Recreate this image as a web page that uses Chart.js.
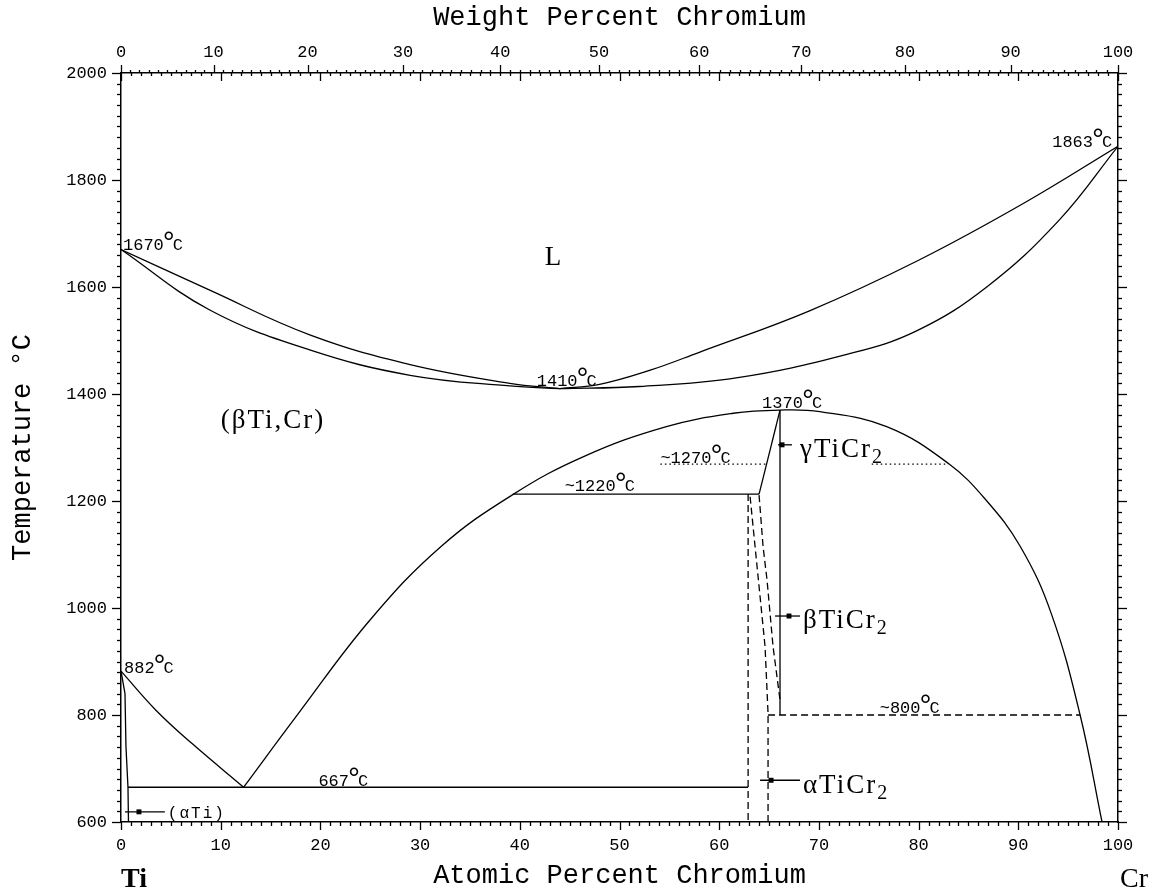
<!DOCTYPE html>
<html>
<head>
<meta charset="utf-8">
<script src="https://cdn.jsdelivr.net/npm/chart.js@4"></script>
<style>
  html, body { margin: 0; padding: 0; background: #fff; }
  #wrap { width: 1152px; height: 892px; }
</style>
</head>
<body>
<div id="wrap"><canvas id="chart" width="1152" height="892"></canvas></div>
<script>
// Ti-Cr phase diagram, atomic percent Cr vs temperature (°C)

// liquidus / solidus
const liquidusLeft  = [[0,1670],[8.9,1594],[19,1510],[29,1455],[39,1420],[44,1410]];
const solidusLeft   = [[0,1670],[8.9,1557],[19,1482],[29,1435],[39,1415],[44,1410]];
const liquidusRight = [[44,1410],[48,1418],[53,1444],[58,1478],[69,1555],[80,1650],[90.5,1756],[100,1863]];
const solidusRight  = [[44,1410],[52,1414],[61.7,1430],[72.8,1474],[79.8,1518],[86.9,1601],[94.1,1725],[100,1863]];

// (βTi,Cr) solvus dome
const betaSolvus = [[12.3,665],[17.8,803],[25,978],[32.1,1115],[39.3,1212],[46.4,1283],[54.7,1339],[61.4,1364],
                    [66.1,1370],[70.1,1367],[76.8,1339],[83,1270],[86.8,1201],[90.2,1115],[93.3,990],[96.2,800],[98.4,600]];
// Ti side
const betaTransus  = [[0,882],[3.5,809],[7.1,747],[12.3,665]];
const alphaSolvus  = [[0,882],[0.4,840],[0.5,740],[0.7,665],[0.75,600]];
const eutectoid    = [[0.7,665],[62.9,665]];
// TiCr2 region
const peritectoid  = [[39.3,1213],[64.0,1213]];
const ticr2Left    = [[64.0,1213],[66.1,1370]];
const ticr2Right   = [[66.1,1370],[66.1,800]];
const dashA        = [[62.9,1213],[62.9,600]];
const dashB        = [[63.1,1208],[63.8,1077],[64.6,928],[64.9,803],[64.9,600]];
const dashC        = [[64.0,1211],[64.4,1115],[64.8,1052],[65.4,928],[66.1,828]];
const dash800      = [[64.9,800],[96.2,800]];
const dot1270Left  = [[54.1,1269],[64.7,1269]];
const dot1270Right = [[75.3,1269],[83,1269]];

// phase markers (leader line + square)
const leaderGamma = [[65.9,1305],[67.3,1305]];
const leaderBeta  = [[65.6,985],[68.1,985]];
const leaderAlpha = [[64.1,678],[68.1,678]];
const leaderAlphaTi = [[0.4,619],[4.4,619]];
const markerSquares = [[66.3,1305],[67.0,985],[65.2,678],[1.8,619]];

// axes
const atomicTicks = [0,10,20,30,40,50,60,70,80,90,100];
const weightTicks = [0,10,20,30,40,50,60,70,80,90,100];
const tempTicks = [600,800,1000,1200,1400,1600,1800,2000];

// labels: [number, x, T baseline]
const tempLabels = [
  ['1670', 0.2, 1669], ['1863', 93.4, 1862], ['1410', 41.7, 1415], ['1370', 64.3, 1374],
  ['~1270', 54.1, 1271], ['~1220', 44.5, 1219], ['~800', 76.1, 804], ['667', 19.8, 667], ['882', 0.3, 878]
];
// [text, subscript, x, T baseline, font]
const phaseLabels = [
  ['L', '', 42.5, 1641, '27px "Liberation Serif"'],
  ['(βTi,Cr)', '', 10.0, 1336, '27px "Liberation Serif"'],
  ['γTiCr', '2', 68.1, 1282, '27px "Liberation Serif"'],
  ['βTiCr', '2', 68.4, 963, '27px "Liberation Serif"'],
  ['αTiCr', '2', 68.4, 654, '27px "Liberation Serif"'],
  ['(αTi)', '', 4.7, 607, '16px "Liberation Mono"']
];

// weight % Cr -> atomic % Cr (Cr 52.00, Ti 47.87)
const wtToAt = w => { const a = w / 52.00, b = (100 - w) / 47.87; return 100 * a / (a + b); };

const pts = arr => arr.map(p => ({x: p[0], y: p[1]}));
const line = (arr, extra) => Object.assign({
  data: pts(arr), showLine: true, pointRadius: 0, borderColor: '#000', borderWidth: 1.3, fill: false
}, extra || {});
const curve = arr => line(arr, {tension: 0.4});
const dashed = arr => line(arr, {borderDash: [7, 4]});
const dotted = arr => line(arr, {borderDash: [1.5, 3]});

const monoTick = {family: 'Liberation Mono', size: 17};
const monoTitle = {family: 'Liberation Mono', size: 27};

const tickMarks = {
  id: 'tickMarks',
  afterDraw(chart) {
    const {ctx, chartArea: a, scales} = chart;
    ctx.save();
    ctx.strokeStyle = '#000';
    ctx.lineWidth = 1.3;
    const seg = (x1, y1, x2, y2) => { ctx.beginPath(); ctx.moveTo(x1, y1); ctx.lineTo(x2, y2); ctx.stroke(); };
    for (let v = 0; v <= 100; v++) {
      const x = Math.round(scales.x.getPixelForValue(v)) + 0.5;
      const major = v % 10 === 0;
      seg(x, a.bottom, x, a.bottom + (major ? 8 : 4));
      seg(x, a.top, x, a.top + (major ? 8 : 3));
    }
    for (let w = 0; w <= 100; w++) {
      const x = Math.round(scales.x2.getPixelForValue(wtToAt(w))) + 0.5;
      seg(x, a.top, x, a.top - (w % 10 === 0 ? 8 : 3));
    }
    for (let t = 600; t <= 2000; t += 20) {
      const y = Math.round(scales.y.getPixelForValue(t)) + 0.5;
      const major = t % 200 === 0;
      seg(a.left, y, a.left - (major ? 9 : 4), y);
      seg(a.right, y, a.right + (major ? 9 : 4), y);
    }
    ctx.restore();
  }
};

const textLabels = {
  id: 'textLabels',
  afterDatasetsDraw(chart) {
    const {ctx, chartArea: a, scales} = chart;
    ctx.save();
    ctx.fillStyle = '#000';
    ctx.textBaseline = 'alphabetic';
    ctx.textAlign = 'left';
    tempLabels.forEach(([num, xv, tv]) => {
      const x = scales.x.getPixelForValue(xv), y = scales.y.getPixelForValue(tv);
      ctx.font = '17px "Liberation Mono"';
      ctx.fillText(num, x, y);
      const w = ctx.measureText(num).width;
      ctx.font = '30px "Liberation Mono"';
      ctx.fillText('°', x + w - 4, y + 2);
      ctx.font = '17px "Liberation Mono"';
      ctx.fillText('C', x + w + 9, y);
    });
    ctx.letterSpacing = '2px';
    phaseLabels.forEach(([txt, sub, xv, tv, font]) => {
      const x = scales.x.getPixelForValue(xv), y = scales.y.getPixelForValue(tv);
      ctx.font = font;
      ctx.fillText(txt, x, y);
      if (sub) {
        const w = ctx.measureText(txt).width;
        ctx.font = '20px "Liberation Serif"';
        ctx.fillText(sub, x + w, y + 6);
      }
    });
    ctx.letterSpacing = '0px';
    const x0 = scales.x.getPixelForValue(0), x100 = scales.x.getPixelForValue(100);
    ctx.font = 'bold 28px "Liberation Serif"';
    ctx.fillText('Ti', x0, a.bottom + 65);
    ctx.font = '28px "Liberation Serif"';
    ctx.fillText('Cr', x100 + 2, a.bottom + 65);
    ctx.restore();
  }
};

new Chart(document.getElementById('chart'), {
  type: 'scatter',
  data: {
    datasets: [
      curve(liquidusLeft), curve(solidusLeft), curve(liquidusRight), curve(solidusRight),
      curve(betaSolvus), curve(betaTransus), line(alphaSolvus), line(eutectoid),
      line(peritectoid), line(ticr2Left), line(ticr2Right),
      dashed(dashA), dashed(dashB), dashed(dashC), dashed(dash800),
      dotted(dot1270Left), dotted(dot1270Right),
      line(leaderGamma), line(leaderBeta), line(leaderAlpha), line(leaderAlphaTi),
      {data: pts(markerSquares), showLine: false, pointStyle: 'rect', pointRadius: 3.5,
       backgroundColor: '#000', borderColor: '#000', borderWidth: 0}
    ]
  },
  options: {
    responsive: false,
    animation: false,
    devicePixelRatio: 1,
    layout: {padding: 0},
    plugins: {legend: {display: false}, tooltip: {enabled: false}},
    scales: {
      x: {
        type: 'linear', position: 'bottom', min: 0, max: 100,
        afterBuildTicks: s => { s.ticks = atomicTicks.map(v => ({value: v})); },
        ticks: {color: '#000', font: monoTick, padding: 13, maxRotation: 0, autoSkip: false,
                callback: v => String(v)},
        grid: {display: false, drawTicks: false},
        border: {color: '#000', width: 1.5},
        title: {display: true, text: 'Atomic Percent Chromium', color: '#000', font: monoTitle, padding: {top: 0, bottom: 0}},
        afterFit: s => { s.height = 70; }
      },
      x2: {
        type: 'linear', position: 'top', min: 0, max: 100,
        afterBuildTicks: s => { s.ticks = weightTicks.map(w => ({value: wtToAt(w)})); },
        ticks: {color: '#000', font: monoTick, padding: 10, maxRotation: 0, autoSkip: false,
                callback: (v, i) => String(weightTicks[i])},
        grid: {display: false, drawTicks: false},
        border: {color: '#000', width: 1.5},
        title: {display: true, text: 'Weight Percent Chromium', color: '#000', font: monoTitle, padding: {top: 2, bottom: 0}},
        afterFit: s => { s.height = 73; }
      },
      y: {
        type: 'linear', position: 'left', min: 600, max: 2000,
        afterBuildTicks: s => { s.ticks = tempTicks.map(v => ({value: v})); },
        ticks: {color: '#000', font: monoTick, padding: 14, callback: v => String(v)},
        grid: {display: false, drawTicks: false},
        border: {color: '#000', width: 1.5},
        title: {display: true, text: 'Temperature °C', color: '#000', font: monoTitle, padding: {top: 7, bottom: 0}},
        afterFit: s => { s.width = 121; }
      },
      y2: {
        type: 'linear', position: 'right', min: 600, max: 2000,
        ticks: {display: false},
        grid: {display: false, drawTicks: false},
        border: {color: '#000', width: 1.5},
        afterFit: s => { s.width = 34; }
      }
    }
  },
  plugins: [tickMarks, textLabels]
});
</script>
</body>
</html>
